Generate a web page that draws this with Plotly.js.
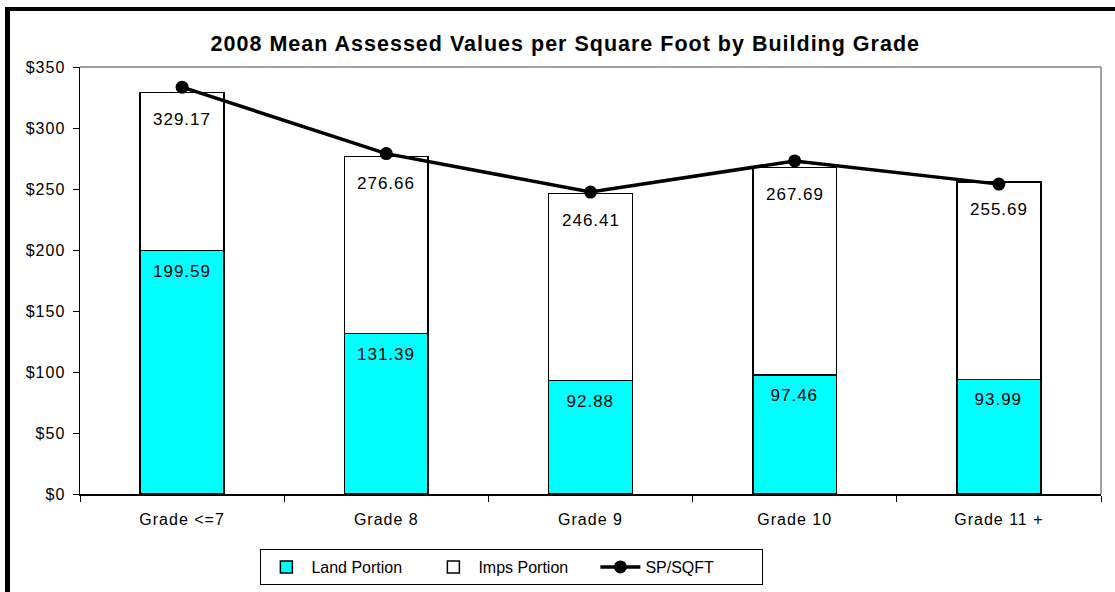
<!DOCTYPE html>
<html>
<head>
<meta charset="utf-8">
<script src="https://cdn.plot.ly/plotly-3.0.1.min.js"></script>
<style>
  html, body { margin: 0; padding: 0; background: #ffffff; }
  #wrap { position: relative; width: 1115px; height: 592px; overflow: hidden; }
  #chart { position: absolute; left: 0; top: 0; width: 1115px; height: 592px; }
  #chart .xtick text, #chart .ytick text, #chart .annotation-text, #chart .gtitle { letter-spacing: 1px; }
  #frame { position: absolute; left: 5px; top: 7px; width: 1200px; height: 700px;
           border-left: 5px solid #000; border-top: 4px solid #000; pointer-events: none; }
</style>
</head>
<body>
<div id="wrap">
  <div id="chart"></div>
  <div id="frame"></div>
</div>
<script>
// ---- data ----
const categories = ["Grade <=7", "Grade 8", "Grade 9", "Grade 10", "Grade 11 +"];
const landPortion = [199.59, 131.39, 92.88, 97.46, 93.99];
const impsPortion = [129.58, 145.27, 153.53, 170.23, 161.70];
const totalLabels = ["329.17", "276.66", "246.41", "267.69", "255.69"];
const spPerSqft = [333.5, 279.0, 247.5, 273.0, 254.0];
const yTickVals = [0, 50, 100, 150, 200, 250, 300, 350];
const yTickText = ["$0", "$50", "$100", "$150", "$200", "$250", "$300", "$350"];

const FONT = "Liberation Sans, Arial, sans-serif";

const traces = [
  {
    type: "bar", name: "Land Portion", x: categories, y: landPortion,
    marker: { color: "#00FFFF", line: { color: "#000000", width: 1.5 } },
    hoverinfo: "skip"
  },
  {
    type: "bar", name: "Imps Portion", x: categories, y: impsPortion,
    marker: { color: "#FFFFFF", line: { color: "#000000", width: 1.5 } },
    hoverinfo: "skip"
  },
  {
    type: "scatter", mode: "lines+markers", name: "SP/SQFT", x: categories, y: spPerSqft,
    line: { color: "#000000", width: 3.5 },
    marker: { color: "#000000", size: 13 },
    hoverinfo: "skip"
  }
];

const annotations = [];
categories.forEach((c, i) => {
  annotations.push({
    x: c, y: landPortion[i], xref: "x", yref: "y", yanchor: "top", yshift: -9,
    text: landPortion[i].toFixed(2), showarrow: false,
    font: { family: FONT, size: 17, color: "#000" }
  });
  annotations.push({
    x: c, y: landPortion[i] + impsPortion[i], xref: "x", yref: "y", yanchor: "top", yshift: -16,
    text: totalLabels[i], showarrow: false,
    font: { family: FONT, size: 17, color: "#000" }
  });
});

const layout = {
  width: 1115, height: 592,
  margin: { l: 80, r: 14, t: 67, b: 98, autoexpand: false },
  paper_bgcolor: "#ffffff", plot_bgcolor: "#ffffff",
  font: { family: FONT, size: 16, color: "#000" },
  title: {
    text: "<b>2008 Mean Assessed Values per Square Foot by Building Grade</b>",
    font: { family: FONT, size: 21.5, color: "#000" },
    xref: "container", x: 0.507, xanchor: "center",
    yref: "container", y: 0.927, yanchor: "middle"
  },
  barmode: "stack",
  bargap: 0.59,
  showlegend: true,
  legend: {
    orientation: "h", traceorder: "normal",
    x: 0.423, xanchor: "center", y: -0.171, yanchor: "middle",
    bordercolor: "#000", borderwidth: 1, bgcolor: "#fff",
    font: { family: FONT, size: 16, color: "#000" },
    itemwidth: 40, entrywidth: 112
  },
  xaxis: {
    type: "category", automargin: false,
    showline: true, linecolor: "#000", linewidth: 1.5,
    ticks: "outside", tickson: "boundaries", ticklen: 6, tickcolor: "#000",
    showgrid: false, zeroline: false,
    ticklabelstandoff: 10,
    tickfont: { family: FONT, size: 16, color: "#000" },
    fixedrange: true
  },
  yaxis: {
    range: [0, 350], automargin: false,
    tickvals: yTickVals, ticktext: yTickText,
    showline: true, linecolor: "#000", linewidth: 1.5,
    ticks: "outside", ticklen: 6, tickcolor: "#000",
    showgrid: false, zeroline: false,
    ticklabelstandoff: 4,
    tickfont: { family: FONT, size: 16, color: "#000" },
    fixedrange: true
  },
  shapes: [
    { type: "line", xref: "paper", yref: "paper", x0: 0, x1: 1, y0: 1, y1: 1,
      line: { color: "#808080", width: 1.5 } },
    { type: "line", xref: "paper", yref: "paper", x0: 1, x1: 1, y0: 0, y1: 1,
      line: { color: "#808080", width: 1.5 } }
  ],
  annotations: annotations
};

Plotly.newPlot("chart", traces, layout, { displayModeBar: false, staticPlot: true });
</script>
</body>
</html>
